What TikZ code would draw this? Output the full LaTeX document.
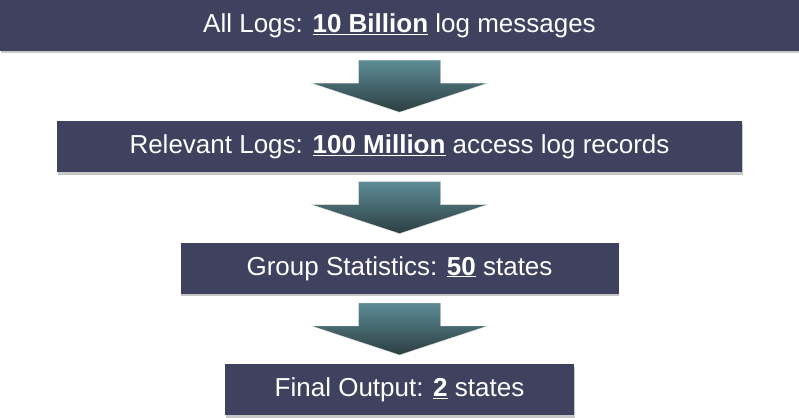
\documentclass[tikz,border=0pt]{standalone}
\usepackage{fontspec}
\setmainfont{Liberation Sans}
\usetikzlibrary{positioning,calc,shadows}
\definecolor{boxblue}{RGB}{63,66,95}
\definecolor{arrowtop}{RGB}{93,140,150}
\definecolor{arrowbot}{RGB}{44,62,66}

\begin{document}
\begin{tikzpicture}[x=1pt,y=-1pt,
    logbox/.style = {rectangle, fill=boxblue, text=white, minimum height=51pt, inner sep=0pt,
        font=\fontsize{26}{30}\selectfont,
        drop shadow={shadow xshift=0.5pt, shadow yshift=-2.5pt, fill=black!22, opacity=1}},
    downarrow/.style = {top color=arrowtop, bottom color=arrowbot, draw=white!75!gray, line width=0.4pt},
    node distance=70pt]
     \useasboundingbox (0,0) rectangle (799,417);
     \node[logbox, minimum width=799pt] (all) at (399.5,25.5) {All Logs: \underline{\textbf{10 Billion}} log messages};
     \node[logbox, minimum width=685pt] (rel) [below=of all] {Relevant Logs: \underline{\textbf{100 Million}} access log records};
     \node[logbox, minimum width=438pt] (grp) [below=of rel] {Group Statistics: \underline{\textbf{50}} states};
     \node[logbox, minimum width=349pt] (out) [below=of grp] {Final Output: \underline{\textbf{2}} states};
     \foreach \a/\b in {all/rel, rel/grp, grp/out}
        \shade[downarrow] ($(\a.south)+(-41,9)$) -- ($(\a.south)+(41,9)$) -- ($(\a.south)+(41,32)$)
            -- ($(\a.south)+(88,32)$) -- ($(\b.north)+(0,-9)$) -- ($(\a.south)+(-88,32)$)
            -- ($(\a.south)+(-41,32)$) -- cycle;
\end{tikzpicture}
\end{document}
